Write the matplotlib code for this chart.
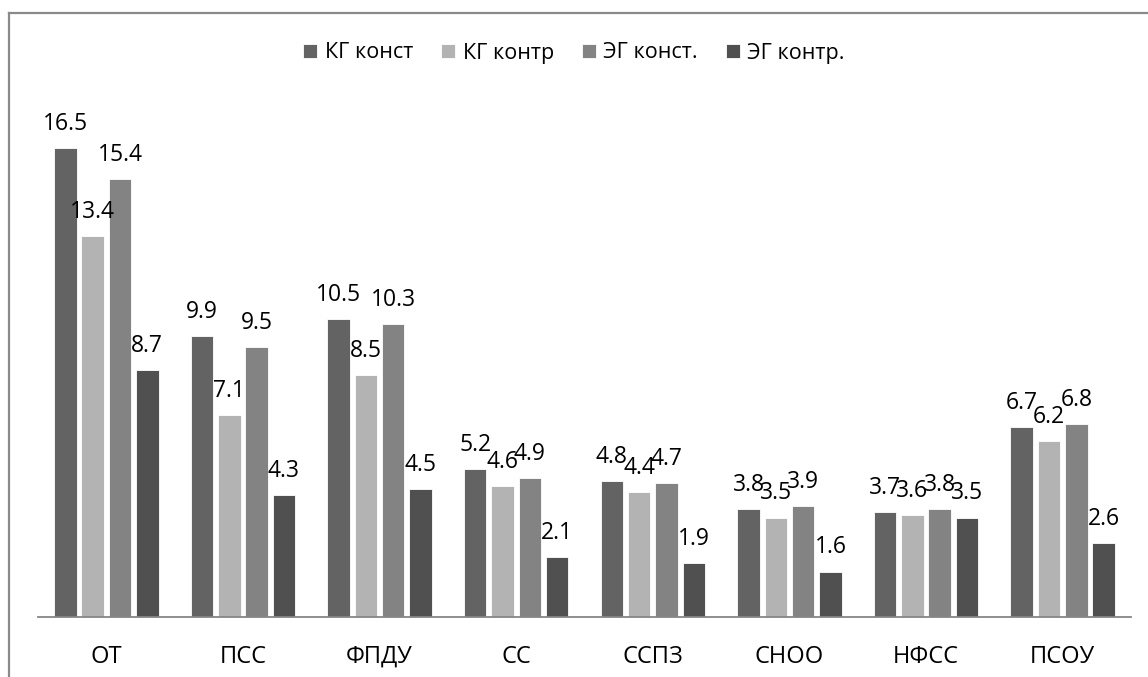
import matplotlib
matplotlib.use("Agg")
import matplotlib.pyplot as plt
from matplotlib.lines import Line2D
import numpy as np

plt.rcParams['font.family'] = ['Open Sans', 'DejaVu Sans']

categories = ["ОТ", "ПСС", "ФПДУ", "СС", "ССПЗ", "СНОО", "НФСС", "ПСОУ"]
series_names = ["КГ конст", "КГ контр", "ЭГ конст.", "ЭГ контр."]
kg_konst = [16.5, 9.9, 10.5, 5.2, 4.8, 3.8, 3.7, 6.7]
kg_kontr = [13.4, 7.1, 8.5, 4.6, 4.4, 3.5, 3.6, 6.2]
eg_konst = [15.4, 9.5, 10.3, 4.9, 4.7, 3.9, 3.8, 6.8]
eg_kontr = [8.7, 4.3, 4.5, 2.1, 1.9, 1.6, 3.5, 2.6]
colors = ["#636363", "#b3b3b3", "#838383", "#505050"]

W, H = 1148, 677
fig = plt.figure(figsize=(W / 100, H / 100), dpi=100)
ax = fig.add_axes([38 / W, (H - 617) / H, 1093 / W, (18 * 28.42) / H])

x = np.arange(len(categories))
pitch = 0.2
width = 0.165
all_series = [kg_konst, kg_kontr, eg_konst, eg_kontr]
for i, (vals, name, c) in enumerate(zip(all_series, series_names, colors)):
    pos = x + (i - 1.5) * pitch
    bars = ax.bar(pos, vals, width, color=c, label=name, edgecolor="white", linewidth=0.6, zorder=2)
    for b, v in zip(bars, vals):
        ax.annotate(f"{v}", (b.get_x() + b.get_width() / 2, v), xytext=(0, 13),
                    textcoords="offset points", ha="center", va="baseline",
                    fontsize=16.5, color="black", zorder=3)

ax.set_xlim(-0.5, len(categories) - 0.5)
ax.set_ylim(0, 18)
ax.set_yticks([])
ax.set_xticks(x)
ax.set_xticklabels(categories, fontsize=17)
ax.tick_params(axis="x", length=0, pad=20)
for s in ["top", "right", "left"]:
    ax.spines[s].set_visible(False)
ax.spines["bottom"].set_color("#868686")
ax.spines["bottom"].set_linewidth(1.3)
ax.patch.set_alpha(0)

fig.legend(loc="center", bbox_to_anchor=(574 / W, 1 - 53 / H), ncol=4, frameon=False,
           fontsize=15.5, handlelength=0.65, handleheight=0.65, handletextpad=0.35,
           columnspacing=1.3)

# outer frame (top and left edges visible)
fig.add_artist(Line2D([9 / W, 1.0], [1 - 13 / H, 1 - 13 / H], color="#8a8a8a", linewidth=1.6))
fig.add_artist(Line2D([9 / W, 9 / W], [0, 1 - 13 / H], color="#8a8a8a", linewidth=1.6))

fig.savefig("out.png", dpi=100)
